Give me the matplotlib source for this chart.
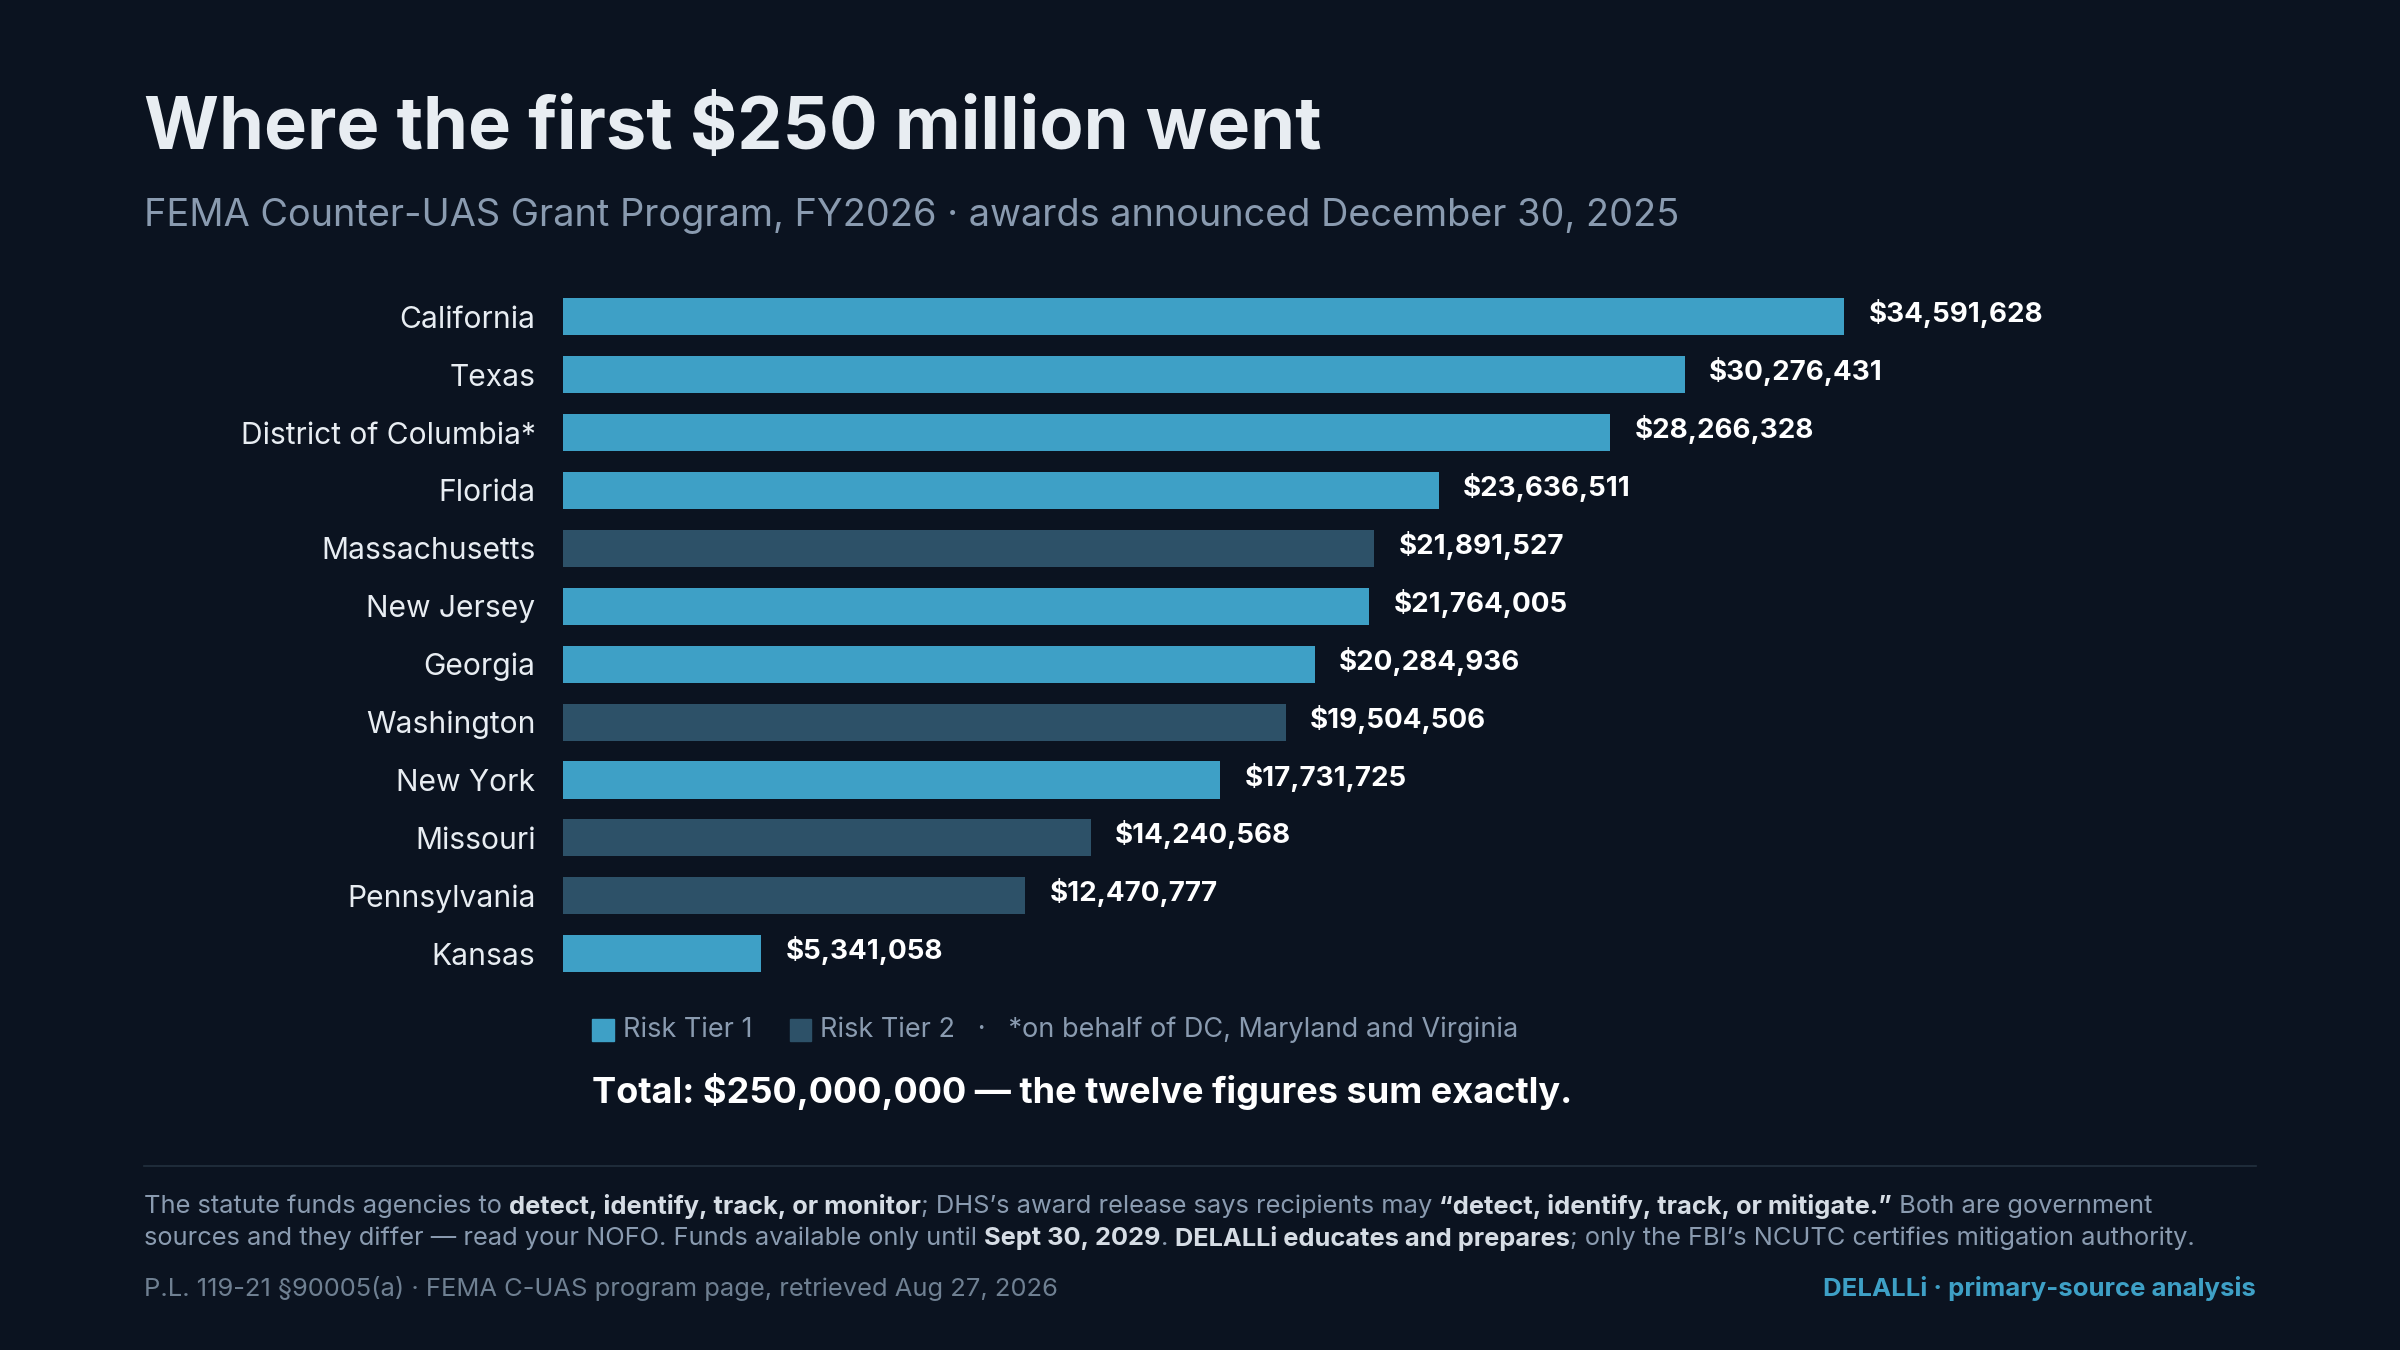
import matplotlib
matplotlib.use("Agg")
import matplotlib.pyplot as plt

states = ["California","Texas","District of Columbia*","Florida","Massachusetts","New Jersey",
          "Georgia","Washington","New York","Missouri","Pennsylvania","Kansas"]
amounts = [34591628,30276431,28266328,23636511,21891527,21764005,20284936,19504506,17731725,14240568,12470777,5341058]
tiers = [1,1,1,1,2,1,1,2,1,2,2,1]

BG="#0b1320"; T1="#3ea0c6"; T2="#2d5168"; FG="#e8edf2"; GRAY="#8a9bb0"
plt.rcParams['font.family']=['Inter','DejaVu Sans']
W,H=1568,882
fig=plt.figure(figsize=(24,13.5),dpi=100,facecolor=BG)
def fx(x): return x/W
def fy(y): return 1-y/H

ax=fig.add_axes([fx(368),fy(642),fx(1474)-fx(368),(642-188)/H])
ax.set_facecolor(BG)
ys=list(range(len(states)))
ax.barh(ys,amounts,height=0.64,color=[T1 if t==1 else T2 for t in tiers])
ax.set_ylim(len(states)-0.5,-0.5)
ax.set_xlim(0,34591628*(1474-368)/837)
for s in ax.spines.values(): s.set_visible(False)
ax.set_xticks([]); ax.set_yticks(ys); ax.set_yticklabels(states,color=FG,fontsize=21.6)
ax.tick_params(axis='y',length=0,pad=20)
for y,v in zip(ys,amounts):
    ax.text(v+ax.get_xlim()[1]*0.0145,y-0.05,f"${v:,}",va='center',ha='left',color='white',fontsize=20,fontweight='bold')

fig.text(fx(94),fy(85),"Where the first $250 million went",color=FG,fontsize=52,fontweight='bold',va='center')
fig.text(fx(94),fy(141),"FEMA Counter-UAS Grant Program, FY2026 · awards announced December 30, 2025",color=GRAY,fontsize=27.3,va='center')

fig.patches.append(plt.Rectangle((fx(387),fy(680)),fx(14),14/H,color=T1,transform=fig.transFigure))
fig.text(fx(407),fy(673),"Risk Tier 1",color=GRAY,fontsize=19.5,va='center')
fig.patches.append(plt.Rectangle((fx(516),fy(680)),fx(14),14/H,color=T2,transform=fig.transFigure))
fig.text(fx(536),fy(673),"Risk Tier 2   ·   *on behalf of DC, Maryland and Virginia",color=GRAY,fontsize=19.5,va='center')
fig.text(fx(387),fy(713),"Total: $250,000,000 — the twelve figures sum exactly.",color='white',fontsize=26,fontweight='bold',va='center')

fig.add_artist(plt.Line2D([fx(94),fx(1474)],[fy(762),fy(762)],color="#22303f",lw=1.2))

fig.canvas.draw()
r=fig.canvas.get_renderer()
def seg_line(x,y,parts):
    for txt,bold in parts:
        t=fig.text(x,y,txt,color=("#d6dde5" if bold else GRAY),fontsize=18.3,
                   fontweight='bold' if bold else 'normal',va='center')
        bb=t.get_window_extent(r)
        x+=bb.width/fig.bbox.width
seg_line(fx(94),fy(788),[("The statute funds agencies to ",0),("detect, identify, track, or monitor",1),
    ("; DHS’s award release says recipients may ",0),("“detect, identify, track, or mitigate.”",1),
    (" Both are government",0)])
seg_line(fx(94),fy(809),[("sources and they differ — read your NOFO. Funds available only until ",0),("Sept 30, 2029",1),
    (". ",0),("DELALLi educates and prepares",1),("; only the FBI’s NCUTC certifies mitigation authority.",0)])
fig.text(fx(94),fy(842),"P.L. 119-21 §90005(a) · FEMA C-UAS program page, retrieved Aug 27, 2026",color="#6f8092",fontsize=18.4,va='center')
fig.text(fx(1474),fy(842),"DELALLi · primary-source analysis",color=T1,fontsize=18.5,fontweight='bold',va='center',ha='right')

fig.savefig("out.png",dpi=100,facecolor=BG)
